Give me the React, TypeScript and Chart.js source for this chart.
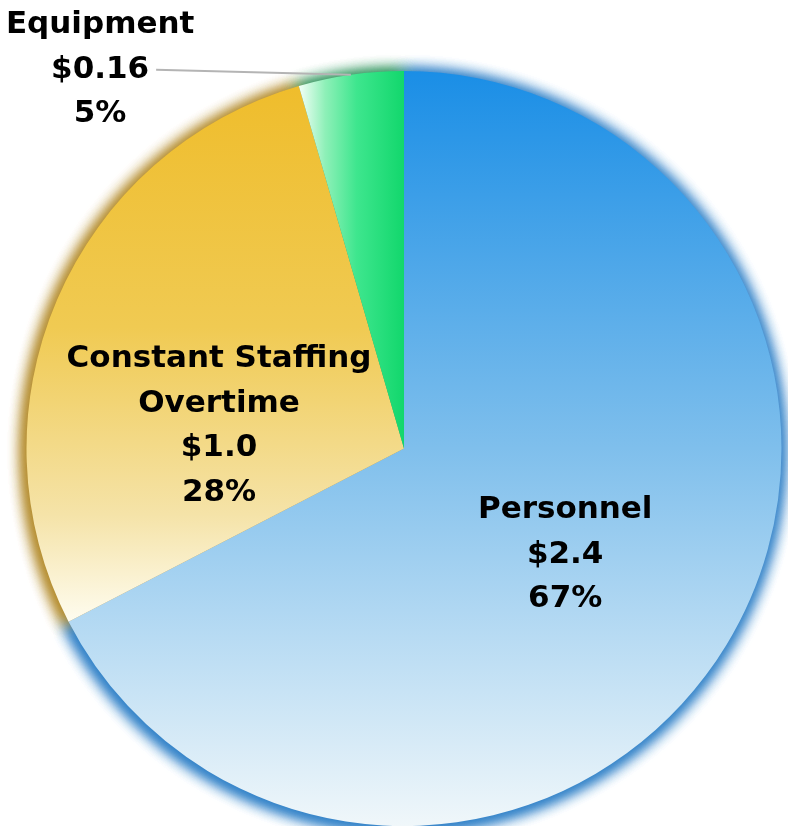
import React, { useEffect, useRef } from "react";
import { Chart, registerables } from "chart.js";

Chart.register(...registerables);

const categories = ["Personnel", "Constant Staffing Overtime", "Equipment"];
const values = [2.4, 1.0, 0.16];
const categoryLines = [["Personnel"], ["Constant Staffing", "Overtime"], ["Equipment"]];
const valueLabels = ["$2.4", "$1.0", "$0.16"];
const percentLabels = ["67%", "28%", "5%"];

const shadowColors = ["rgba(50,130,200,1)", "rgba(180,140,45,1)", "rgba(50,150,95,1)"];

const FONT = 'bold 31px "DejaVu Sans"';
const LINE_H = 44.5;

function sliceAngles(i: number) {
  const total = values.reduce((a, b) => a + b, 0);
  let acc = 0;
  for (let k = 0; k < i; k++) acc += values[k];
  return [(acc / total) * Math.PI * 2, ((acc + values[i]) / total) * Math.PI * 2];
}

function makeFill(context: any) {
  const chart = context.chart;
  const area = chart.chartArea;
  const i = context.dataIndex;
  const fallback = ["#6ab4ea", "#f1cd5c", "#40e48e"][i];
  if (!area) return fallback;
  const c = chart.ctx as CanvasRenderingContext2D;
  const cx = (area.left + area.right) / 2;
  const cy = (area.top + area.bottom) / 2;
  const R = Math.min(area.right - area.left, area.bottom - area.top) / 2;
  const [a1, a2] = sliceAngles(i);
  const px = (a: number) => cx + R * Math.sin(a);
  const py = (a: number) => cy - R * Math.cos(a);
  if (i === 0) {
    const g = c.createLinearGradient(0, cy - R, 0, cy + R);
    g.addColorStop(0, "#1a8ee6");
    g.addColorStop(0.5, "#7fbfec");
    g.addColorStop(1, "#f0f7fa");
    return g;
  }
  if (i === 1) {
    const top = Math.min(py(a1), py(a2), cy);
    const bot = Math.max(py(a1), py(a2), cy);
    const g = c.createLinearGradient(0, top, 0, bot);
    g.addColorStop(0, "#efbd2c");
    g.addColorStop(0.45, "#f0ca52");
    g.addColorStop(0.8, "#f5e3a8");
    g.addColorStop(1, "#fefcef");
    return g;
  }
  const left = Math.min(px(a1), px(a2), cx);
  const right = Math.max(px(a1), px(a2), cx);
  const g = c.createLinearGradient(left, 0, right, 0);
  g.addColorStop(0, "#f4fff8");
  g.addColorStop(0.25, "#8ef0b8");
  g.addColorStop(0.55, "#3ee68e");
  g.addColorStop(1, "#12d76c");
  return g;
}

const shadowPlugin = {
  id: "sliceShadow",
  beforeDatasetsDraw(chart: any) {
    const ctx = chart.ctx as CanvasRenderingContext2D;
    const meta = chart.getDatasetMeta(0);
    const SHIFT = 5000;
    for (let pass = 0; pass < 3; pass++) {
      meta.data.forEach((el: any, i: number) => {
        const { x, y, startAngle, endAngle, outerRadius } = el.getProps(
          ["x", "y", "startAngle", "endAngle", "outerRadius"],
          true
        );
        ctx.save();
        ctx.shadowColor = shadowColors[i];
        ctx.shadowBlur = 16;
        ctx.shadowOffsetX = -SHIFT - 1;
        ctx.shadowOffsetY = 2;
        ctx.fillStyle = "#000";
        ctx.beginPath();
        ctx.moveTo(x + SHIFT, y);
        ctx.arc(x + SHIFT, y, outerRadius + 1, startAngle, endAngle);
        ctx.closePath();
        ctx.fill();
        ctx.restore();
      });
    }
  },
};

const labelPlugin = {
  id: "sliceLabels",
  afterDatasetsDraw(chart: any) {
    const ctx = chart.ctx as CanvasRenderingContext2D;
    const meta = chart.getDatasetMeta(0);
    ctx.save();
    ctx.font = FONT;
    ctx.fillStyle = "#000000";
    ctx.textAlign = "center";
    ctx.textBaseline = "alphabetic";
    meta.data.forEach((el: any, i: number) => {
      const { x, y, startAngle, endAngle, outerRadius } = el.getProps(
        ["x", "y", "startAngle", "endAngle", "outerRadius"],
        true
      );
      const lines = [...categoryLines[i], valueLabels[i], percentLabels[i]];
      let bx: number;
      let firstBaseline: number;
      if (i === 2) {
        const mid = (startAngle + endAngle) / 2;
        const ex = x + outerRadius * Math.cos(mid);
        const ey = y + outerRadius * Math.sin(mid);
        bx = x - 0.805 * outerRadius;
        firstBaseline = y - 1.1 * outerRadius;
        ctx.save();
        ctx.strokeStyle = "#b4b4b4";
        ctx.lineWidth = 2;
        ctx.beginPath();
        ctx.moveTo(bx + 56, firstBaseline + LINE_H - 8);
        ctx.lineTo(ex, ey);
        ctx.stroke();
        ctx.restore();
      } else {
        let cxl: number, cyl: number;
        if (i === 0) {
          const mid = (startAngle + endAngle) / 2;
          cxl = x + 0.5 * outerRadius * Math.cos(mid);
          cyl = y + 0.5 * outerRadius * Math.sin(mid) + 5;
        } else {
          cxl = x - 0.49 * outerRadius;
          cyl = y - 0.075 * outerRadius + 3;
        }
        bx = cxl;
        const blockH = (lines.length - 1) * LINE_H;
        firstBaseline = cyl - blockH / 2 + 11;
      }
      lines.forEach((t, k) => {
        ctx.fillText(t, bx, firstBaseline + k * LINE_H);
      });
    });
    ctx.restore();
  },
};

export default function App() {
  const ref = useRef<HTMLCanvasElement | null>(null);
  useEffect(() => {
    document.body.style.margin = "0";
    if (!ref.current) return;
    const chart = new Chart(ref.current, {
      type: "pie",
      data: {
        labels: categories,
        datasets: [
          {
            data: values,
            backgroundColor: makeFill as any,
            borderWidth: 0,
          },
        ],
      },
      options: {
        responsive: false,
        animation: false,
        layout: { padding: { left: 26, right: 6, top: 71, bottom: 0 } },
        plugins: {
          legend: { display: false },
          tooltip: { enabled: false },
        },
      },
      plugins: [shadowPlugin, labelPlugin],
    });
    return () => chart.destroy();
  }, []);
  return (
    <div style={{ position: "absolute", left: 0, top: 0, width: 788, height: 826, background: "#ffffff" }}>
      <canvas ref={ref} width={788} height={826} />
    </div>
  );
}
